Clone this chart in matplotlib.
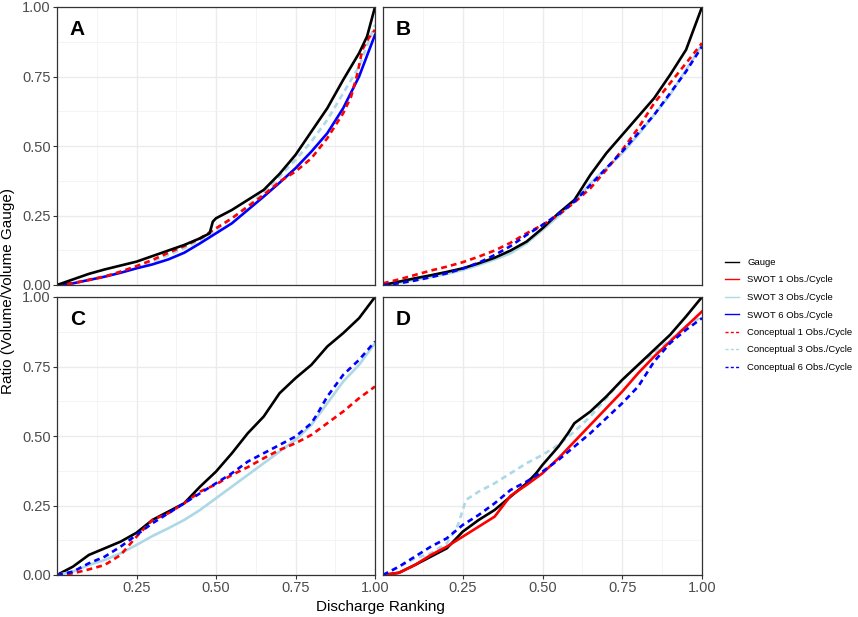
import matplotlib.pyplot as plt
from matplotlib.lines import Line2D

plt.rcParams['font.family'] = ['Liberation Sans', 'DejaVu Sans']

# common discharge ranking positions (step 0.05)
xs = [0.0, 0.05, 0.1, 0.15, 0.2, 0.25, 0.3, 0.35, 0.4, 0.45, 0.5,
      0.55, 0.6, 0.65, 0.7, 0.75, 0.8, 0.85, 0.9, 0.95, 1.0]

# Panel A
a_gauge_x = [0.0, 0.05, 0.1, 0.15, 0.2, 0.25, 0.3, 0.35, 0.4, 0.45, 0.48, 0.49, 0.5,
             0.55, 0.6, 0.65, 0.7, 0.75, 0.8, 0.85, 0.9, 0.95, 0.975, 1.0]
a_gauge = [0.0, 0.02, 0.04, 0.056, 0.07, 0.084, 0.104, 0.124, 0.144, 0.168, 0.186, 0.228, 0.24,
           0.27, 0.306, 0.342, 0.40, 0.468, 0.552, 0.636, 0.738, 0.834, 0.894, 1.0]
a_swot6 = [0.0, 0.006, 0.018, 0.03, 0.044, 0.06, 0.074, 0.092, 0.116, 0.15, 0.186,
           0.222, 0.27, 0.318, 0.368, 0.42, 0.48, 0.546, 0.636, 0.75, 0.90]
a_conc1_x = [0.0, 0.05, 0.1, 0.15, 0.2, 0.25, 0.3, 0.35, 0.4, 0.45, 0.5, 0.55, 0.6,
             0.65, 0.7, 0.75, 0.8, 0.85, 0.9, 0.925, 0.945, 0.96, 0.98, 1.0]
a_conc1 = [0.0, 0.006, 0.018, 0.03, 0.048, 0.068, 0.09, 0.116, 0.14, 0.168, 0.204, 0.24, 0.282,
           0.324, 0.372, 0.408, 0.456, 0.528, 0.618, 0.678, 0.762, 0.846, 0.888, 0.918]
a_conc3 = [0.0, 0.008, 0.02, 0.032, 0.048, 0.066, 0.084, 0.108, 0.132, 0.162, 0.198,
           0.24, 0.285, 0.333, 0.39, 0.45, 0.516, 0.594, 0.69, 0.786, 0.936]

# Panel B
b_gauge = [0.0, 0.012, 0.024, 0.035, 0.047, 0.06, 0.078, 0.098, 0.124, 0.156, 0.204,
           0.258, 0.306, 0.396, 0.474, 0.54, 0.606, 0.672, 0.756, 0.846, 1.0]
b_swot3 = [0.0, 0.008, 0.018, 0.028, 0.04, 0.054, 0.072, 0.092, 0.114, 0.15, 0.198,
           0.248, 0.30, 0.366, 0.42, 0.474, 0.54, 0.612, 0.684, 0.774, 0.864]
b_conc1 = [0.006, 0.02, 0.036, 0.052, 0.066, 0.082, 0.102, 0.124, 0.152, 0.186, 0.216,
           0.252, 0.297, 0.348, 0.414, 0.486, 0.564, 0.654, 0.726, 0.798, 0.87]
b_conc6 = [0.0, 0.006, 0.016, 0.028, 0.042, 0.059, 0.08, 0.108, 0.14, 0.18, 0.216,
           0.255, 0.30, 0.36, 0.42, 0.48, 0.546, 0.612, 0.69, 0.768, 0.858]

# Panel C
c_gauge = [0.0, 0.03, 0.072, 0.096, 0.12, 0.152, 0.198, 0.228, 0.258, 0.318, 0.372,
           0.438, 0.51, 0.57, 0.654, 0.708, 0.756, 0.822, 0.87, 0.924, 1.0]
c_swot3 = [0.0, 0.012, 0.036, 0.054, 0.078, 0.108, 0.14, 0.168, 0.198, 0.234, 0.276,
           0.318, 0.36, 0.402, 0.444, 0.486, 0.54, 0.618, 0.696, 0.756, 0.834]
c_conc1 = [0.0, 0.006, 0.02, 0.036, 0.072, 0.138, 0.198, 0.222, 0.258, 0.30, 0.326,
           0.36, 0.388, 0.42, 0.45, 0.474, 0.504, 0.546, 0.588, 0.636, 0.678]
c_conc6_x = [0.0, 0.05, 0.1, 0.15, 0.2, 0.25, 0.3, 0.35, 0.4, 0.45, 0.5, 0.55, 0.6,
             0.65, 0.7, 0.75, 0.8, 0.82, 0.85, 0.9, 0.95, 1.0]
c_conc6 = [0.0, 0.012, 0.042, 0.066, 0.102, 0.144, 0.186, 0.222, 0.258, 0.294, 0.33,
           0.366, 0.408, 0.438, 0.468, 0.498, 0.546, 0.582, 0.642, 0.72, 0.774, 0.84]

# Panel D
d_gauge_x = [0.0, 0.05, 0.1, 0.15, 0.2, 0.25, 0.3, 0.35, 0.4, 0.45, 0.48, 0.5, 0.55, 0.58,
             0.6, 0.65, 0.7, 0.75, 0.8, 0.85, 0.9, 0.95, 1.0]
d_gauge = [0.0, 0.008, 0.036, 0.066, 0.096, 0.156, 0.198, 0.234, 0.282, 0.33, 0.366, 0.396,
           0.462, 0.51, 0.546, 0.588, 0.642, 0.702, 0.756, 0.81, 0.864, 0.93, 1.0]
d_swot1 = [0.0, 0.008, 0.036, 0.072, 0.102, 0.138, 0.174, 0.21, 0.285, 0.324, 0.366,
           0.42, 0.48, 0.54, 0.60, 0.66, 0.726, 0.786, 0.84, 0.894, 0.948]
d_conc3_x = [0.0, 0.05, 0.1, 0.15, 0.2, 0.235, 0.26, 0.3, 0.35, 0.4, 0.45, 0.5, 0.55,
             0.6, 0.65, 0.7, 0.75, 0.8, 0.85, 0.9, 0.95, 1.0]
d_conc3 = [0.0, 0.03, 0.06, 0.078, 0.114, 0.18, 0.27, 0.30, 0.33, 0.366, 0.402, 0.432, 0.468,
           0.516, 0.57, 0.636, 0.702, 0.756, 0.798, 0.846, 0.894, 0.93]
d_conc6 = [0.0, 0.03, 0.066, 0.102, 0.132, 0.18, 0.216, 0.258, 0.306, 0.336, 0.372,
           0.414, 0.462, 0.51, 0.564, 0.618, 0.678, 0.768, 0.834, 0.882, 0.924]

BLACK = 'black'
RED = '#FF0000'
LBLUE = '#ADD8E6'
BLUE = '#0000FF'
LW = 1.9
DASH = (0, (2.2, 1.6))

fig = plt.figure(figsize=(8.58, 6.17), dpi=100)

W, H = 858, 617
boxes = {
    'A': (57, 7, 375, 285),
    'B': (383, 7, 702, 285),
    'C': (57, 297, 375, 575),
    'D': (383, 297, 702, 575),
}

axes = {}
for key, (l, t, r, b) in boxes.items():
    ax = fig.add_axes([l / W, 1 - b / H, (r - l) / W, (b - t) / H])
    ax.set_xlim(0, 1)
    ax.set_ylim(0, 1)
    ax.set_xticks([0.25, 0.5, 0.75, 1.0])
    ax.set_xticks([0.125, 0.375, 0.625, 0.875], minor=True)
    ax.set_yticks([0.0, 0.25, 0.5, 0.75, 1.0])
    ax.set_yticks([0.125, 0.375, 0.625, 0.875], minor=True)
    ax.grid(which='major', color='#EBEBEB', linewidth=1.0)
    ax.grid(which='minor', color='#F2F2F2', linewidth=0.6)
    ax.set_axisbelow(True)
    for s in ax.spines.values():
        s.set_color('#333333')
        s.set_linewidth(0.9)
    ax.tick_params(which='minor', length=0)
    ax.tick_params(which='major', length=3, color='#333333', labelsize=10.5,
                   labelcolor='#4D4D4D', pad=1.5)
    ax.set_xticklabels(['0.25', '0.50', '0.75', '1.00'])
    ax.set_yticklabels(['0.00', '0.25', '0.50', '0.75', '1.00'])
    if key in ('A', 'B'):
        ax.tick_params(axis='x', labelbottom=False, length=0)
    if key in ('B', 'D'):
        ax.tick_params(axis='y', labelleft=False, length=0)
    ax.text(0.04, 0.955, key, transform=ax.transAxes, fontsize=15,
            fontweight='bold', va='top', ha='left')
    axes[key] = ax

ax = axes['A']
ax.plot(xs, a_conc3, color=LBLUE, lw=LW, ls=DASH)
ax.plot(xs, a_swot6, color=BLUE, lw=LW)
ax.plot(a_conc1_x, a_conc1, color=RED, lw=LW, ls=DASH)
ax.plot(a_gauge_x, a_gauge, color=BLACK, lw=LW)

ax = axes['B']
ax.plot(xs, b_swot3, color=LBLUE, lw=LW)
ax.plot(xs, b_gauge, color=BLACK, lw=LW)
ax.plot(xs, b_conc1, color=RED, lw=LW, ls=DASH)
ax.plot(xs, b_conc6, color=BLUE, lw=LW, ls=DASH)

ax = axes['C']
ax.plot(xs, c_gauge, color=BLACK, lw=LW)
ax.plot(xs, c_swot3, color=LBLUE, lw=LW)
ax.plot(xs, c_conc1, color=RED, lw=LW, ls=DASH)
ax.plot(c_conc6_x, c_conc6, color=BLUE, lw=LW, ls=DASH)

ax = axes['D']
ax.plot(d_conc3_x, d_conc3, color=LBLUE, lw=LW, ls=DASH)
ax.plot(d_gauge_x, d_gauge, color=BLACK, lw=LW)
ax.plot(xs, d_swot1, color=RED, lw=LW)
ax.plot(xs, d_conc6, color=BLUE, lw=LW, ls=DASH)

fig.text(380 / W, 1 - 607 / H, 'Discharge Ranking', ha='center', va='center', fontsize=11)
fig.text(8 / W, 1 - 291 / H, 'Ratio (Volume/Volume Gauge)', ha='center', va='center',
         rotation=90, fontsize=11)

legend_names = ['Gauge', 'SWOT 1 Obs./Cycle', 'SWOT 3 Obs./Cycle', 'SWOT 6 Obs./Cycle',
                'Conceptual 1 Obs./Cycle', 'Conceptual 3 Obs./Cycle', 'Conceptual 6 Obs./Cycle']
legend_colors = [BLACK, RED, LBLUE, BLUE, RED, LBLUE, BLUE]
legend_styles = ['-', '-', '-', '-', (0, (2.2, 1.6)), (0, (2.2, 1.6)), (0, (2.2, 1.6))]
handles = [Line2D([], [], color=c, ls=s, lw=1.0) for c, s in zip(legend_colors, legend_styles)]
fig.legend(handles, legend_names, loc='center left', bbox_to_anchor=(721 / W, 1 - 315 / H),
           frameon=False, fontsize=6.8, handlelength=1.5, labelspacing=0.9,
           handletextpad=0.9, borderaxespad=0)

fig.savefig('out.png', dpi=100)
